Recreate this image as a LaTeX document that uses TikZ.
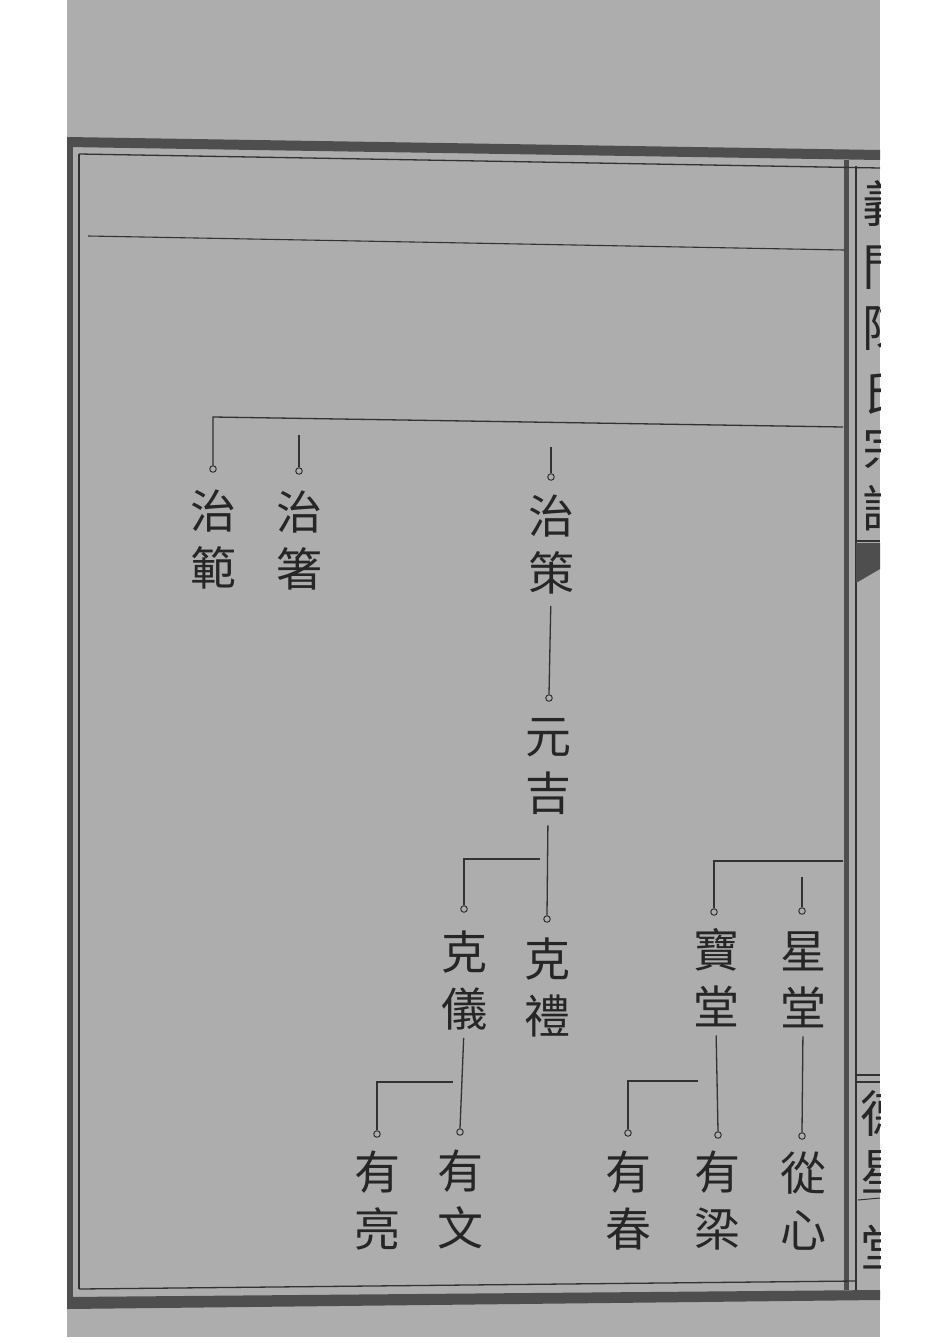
\documentclass[tikz,border=0pt]{standalone}
\usepackage{fontspec}
\newfontfamily\cjk{Noto Sans CJK TC}
\definecolor{paper}{RGB}{173,173,173}
\definecolor{inkc}{RGB}{50,50,50}
\definecolor{textc}{RGB}{38,38,38}
\definecolor{bandc}{RGB}{78,78,78}
\begin{document}
\begin{tikzpicture}[x=1pt,y=-1pt,
  ink/.style={draw=inkc, line width=1.3pt},
  pdot/.style={circle, draw=inkc, line width=1pt, inner sep=0pt, minimum size=6.5pt, fill=paper},
  pname/.style={font=\cjk\fontsize{46}{57}\selectfont, text=textc, align=center, inner sep=0pt},
  ttl/.style={font=\cjk\fontsize{50}{50}\selectfont, text=textc, inner sep=0pt},
  band/.style={fill=bandc, draw=none},
  frameline/.style={draw=inkc, line width=1.3pt}]
\useasboundingbox (0,0) rectangle (950,1343);
\fill[white] (0,0) rectangle (950,1343);
\fill[paper] (67,0) rectangle (880,1337);

% ---- frame ----
\path[band] (67,137) -- (880,150) -- (880,160) -- (67,147) -- cycle;
\path[band] (67,1297) -- (880,1290) -- (880,1300) -- (67,1309) -- cycle;
\path[band] (67,140) rectangle (73,1306);
\path[band] (844,160) rectangle (849,1290);
\draw[frameline] (79,154) -- (880,168);
\draw[frameline] (79,1289) -- (856,1281);
\draw[frameline] (79,154) -- (79,1289);
\draw[frameline] (856,166) -- (856,1290);
\draw[draw=inkc, line width=1.1pt] (88,236) -- (844,250);

% ---- right margin column ----
\begin{scope}
\clip (857,168) rectangle (880,1290);
\node[ttl] (t1) at (887,203) {義};
\node[ttl] (t2) at (887,268) {門};
\node[ttl] (t3) at (887,328) {陳};
\node[ttl] (t4) at (887,393) {氏};
\node[ttl] (t5) at (887,448) {宗};
\node[ttl] (t6) at (887,508) {譜};
\node[ttl] (h1) at (885,1113) {德};
\node[ttl] (h2) at (885,1172) {星};
\node[ttl] (h3) at (885,1247) {堂};
\end{scope}
\draw[frameline] (856,541) -- (880,541);
\path[fill=bandc] (856,543) -- (880,543) -- (880,569) -- (856,583) -- cycle;
\draw[frameline] (856,1075) -- (880,1075);
\draw[frameline] (856,1082) -- (880,1082);
\draw[draw=inkc, line width=1pt] (858,1200) -- (880,1198);

% ---- persons: dots ----
\node[pdot] (zfd) at (213,469) {};
\node[pdot] (zzd) at (299,471) {};
\node[pdot] (zcd) at (551,477) {};
\node[pdot] (yjd) at (549,698) {};
\node[pdot] (kld) at (547,919) {};
\node[pdot] (kyd) at (464,909) {};
\node[pdot] (ywd) at (460,1132) {};
\node[pdot] (yld) at (377,1134) {};
\node[pdot] (btd) at (714,912) {};
\node[pdot] (xtd) at (802,911) {};
\node[pdot] (cxd) at (802,1136) {};
\node[pdot] (ygd) at (718,1135) {};
\node[pdot] (ycd) at (628,1133) {};

% ---- persons: names ----
\node[pname] (zf) at (213,539) {治\\範};
\node[pname] (zz) at (299,540) {治\\箸};
\node[pname] (zc) at (551,544) {治\\策};
\node[pname] (yj) at (548,767) {元\\吉};
\node[pname] (kl) at (547,987) {克\\禮};
\node[pname] (ky) at (464,980) {克\\儀};
\node[pname] (yw) at (460,1199) {有\\文};
\node[pname] (yl) at (377,1201) {有\\亮};
\node[pname] (bt) at (716,978) {寶\\堂};
\node[pname] (xt) at (803,980) {星\\堂};
\node[pname] (cx) at (803,1201) {從\\心};
\node[pname] (yg) at (717,1201) {有\\梁};
\node[pname] (yc) at (628,1200) {有\\春};

% ---- connector ends ----
\coordinate (tbr) at (843,427);
\coordinate (tbl) at (213,417);
\coordinate (zzt) at (299,435);
\coordinate (zct) at (551,447);
\coordinate (kyb) at (540,859);
\coordinate (ylb) at (453,1082);
\coordinate (rbr) at (843,861);
\coordinate (xtt) at (802,877);
\coordinate (ycb) at (698,1081);

% ---- connectors ----
\draw[ink] (tbr) -- (tbl) -- (zfd.north);
\draw[ink] (zzt) -- (zzd.north);
\draw[ink] (zct) -- (zcd.north);
\draw[ink, shorten <=12pt] (zc.south) -- (yjd.north);
\draw[ink, shorten <=10pt] (yj.south) -- (kld.north);
\draw[ink] (kyb) -| (kyd.north);
\draw[ink, shorten <=8pt] (ky.south) -- (ywd.north);
\draw[ink] (ylb) -| (yld.north);
\draw[ink] (rbr) -| (btd.north);
\draw[ink] (xtt) -- (xtd.north);
\draw[ink, shorten <=8pt] (xt.south) -- (cxd.north);
\draw[ink, shorten <=8pt] (bt.south) -- (ygd.north);
\draw[ink] (ycb) -| (ycd.north);
\end{tikzpicture}
\end{document}
